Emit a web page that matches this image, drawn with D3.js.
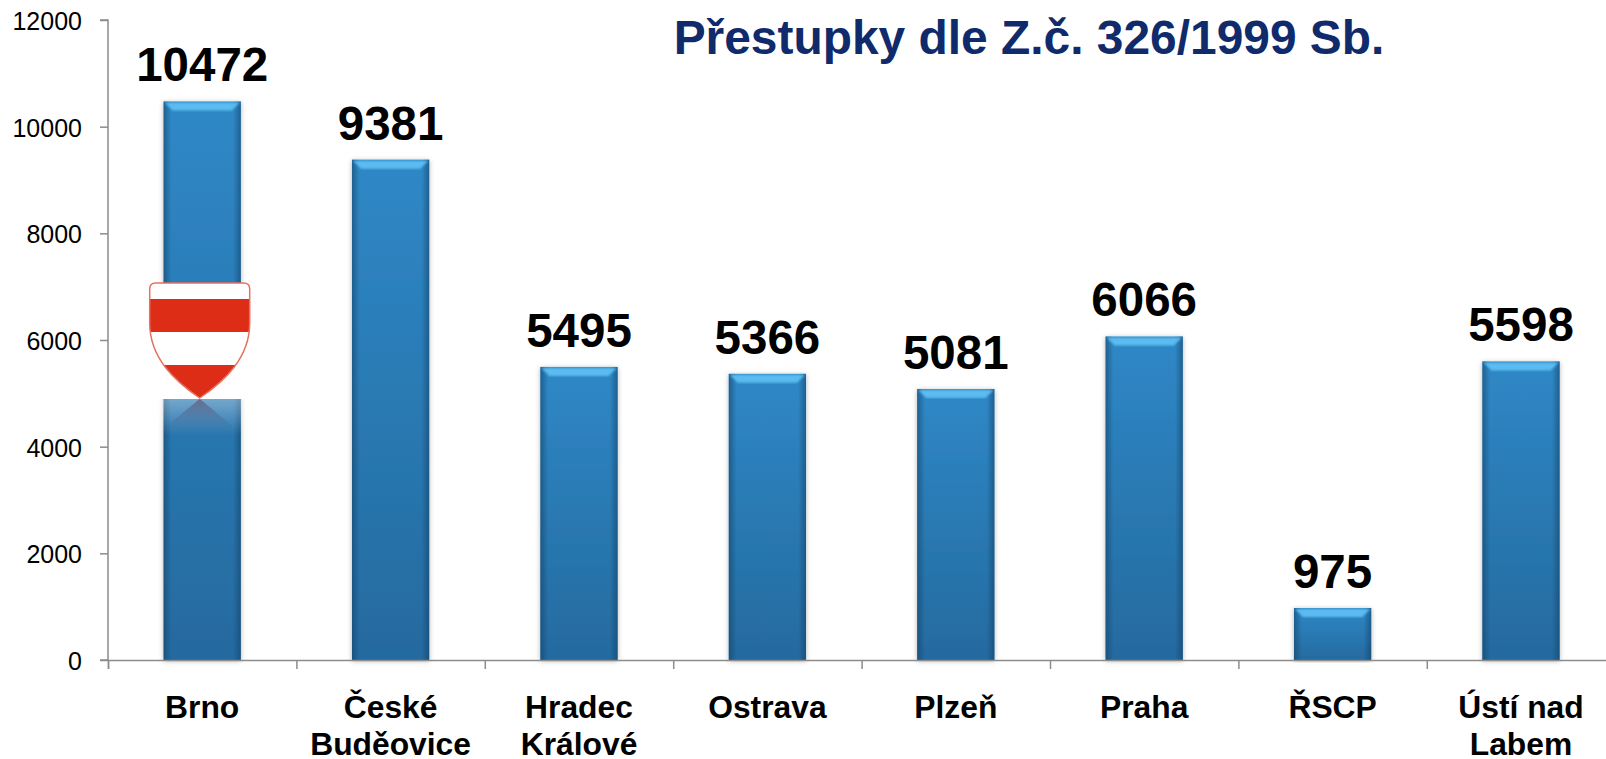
<!DOCTYPE html>
<html>
<head>
<meta charset="utf-8">
<script src="https://cdn.jsdelivr.net/npm/d3@7"></script>
<style>
  html, body { margin: 0; padding: 0; background: #fff; overflow: hidden; }
  svg { display: block; font-family: "Liberation Sans", Arial, sans-serif; }
</style>
</head>
<body>
<div id="plot-area"></div>
<script>
// Bar chart of offences per regional unit, law 326/1999

const categories = ["Brno", "České|Buděovice", "Hradec|Králové", "Ostrava", "Plzeň", "Praha", "ŘSCP", "Ústí nad|Labem"];
const values = [10472, 9381, 5495, 5366, 5081, 6066, 975, 5598];
const yTicks = [0, 2000, 4000, 6000, 8000, 10000, 12000];
const title = "Přestupky dle Z.č. 326/1999 Sb.";

const w = 1606, h = 759;
const svg = d3.select("#plot-area").append("svg").attr("width", w).attr("height", h);

// Plot area, the last slot runs a bit past the window edge like the source
const pL = 108, step = 188.4, yTop = 20, yBase = 660;

const xScale = d3.scaleBand().domain(categories).range([pL, pL + step * categories.length]).paddingInner(0.59).paddingOuter(0.295);
const xEdge = d3.scaleLinear().domain([0, categories.length]).range([pL, pL + step * categories.length]);
const yScale = d3.scaleLinear().domain([0, 12000]).range([yBase, yTop]);

// Gradients and shadow for the bevelled bars
const defs = svg.append("defs");

const bodyGrad = defs.append("linearGradient").attr("id", "bar-body").attr("x1", 0).attr("y1", 0).attr("x2", 0).attr("y2", 1);
bodyGrad.append("stop").attr("offset", "0%").attr("stop-color", "#2f88c6");
bodyGrad.append("stop").attr("offset", "100%").attr("stop-color", "#246a9f");

const sideGrad = defs.append("linearGradient").attr("id", "bar-side").attr("x1", 0).attr("y1", 0).attr("x2", 1).attr("y2", 0);
sideGrad.append("stop").attr("offset", "0%").attr("stop-color", "#123f63").attr("stop-opacity", 0.55);
sideGrad.append("stop").attr("offset", "10%").attr("stop-color", "#123f63").attr("stop-opacity", 0);
sideGrad.append("stop").attr("offset", "90%").attr("stop-color", "#123f63").attr("stop-opacity", 0);
sideGrad.append("stop").attr("offset", "100%").attr("stop-color", "#123f63").attr("stop-opacity", 0.55);

const shadow = defs.append("filter").attr("id", "bar-shadow").attr("x", "-15%").attr("y", "-5%").attr("width", "130%").attr("height", "110%");
shadow.append("feDropShadow").attr("dx", 0).attr("dy", 1).attr("stdDeviation", 2.5).attr("flood-color", "#000").attr("flood-opacity", 0.3);

defs.append("filter").attr("id", "soft").append("feGaussianBlur").attr("stdDeviation", 0.8);

const fadeGrad = defs.append("linearGradient").attr("id", "reflect-fade").attr("x1", 0).attr("y1", 0).attr("x2", 0).attr("y2", 1);
fadeGrad.append("stop").attr("offset", "0%").attr("stop-color", "#fff").attr("stop-opacity", 0.35);
fadeGrad.append("stop").attr("offset", "100%").attr("stop-color", "#fff").attr("stop-opacity", 0);

const tipGrad = defs.append("linearGradient").attr("id", "reflect-tip").attr("x1", 0).attr("y1", 0).attr("x2", 0).attr("y2", 1);
tipGrad.append("stop").attr("offset", "0%").attr("stop-color", "#6a5f80").attr("stop-opacity", 0.85);
tipGrad.append("stop").attr("offset", "100%").attr("stop-color", "#2a6f9f").attr("stop-opacity", 0);

// Bars
const bars = svg.selectAll(".bar").data(categories).enter().append("g").attr("class", "bar");
const bevel = 9;

bars.append("rect").
attr("x", d => xScale(d)).
attr("y", (d, i) => yScale(values[i])).
attr("width", xScale.bandwidth()).
attr("height", (d, i) => yBase - yScale(values[i])).
attr("fill", "url(#bar-body)").
attr("filter", "url(#bar-shadow)");

bars.append("rect").
attr("x", d => xScale(d)).
attr("y", (d, i) => yScale(values[i])).
attr("width", xScale.bandwidth()).
attr("height", (d, i) => yBase - yScale(values[i])).
attr("fill", "url(#bar-side)");

bars.append("polygon").
attr("points", (d, i) => {
  const x0 = xScale(d), x1 = x0 + xScale.bandwidth(), y0 = yScale(values[i]);
  return [[x0 + 1, y0 + 1], [x1 - 1, y0 + 1], [x1 - bevel, y0 + bevel], [x0 + bevel, y0 + bevel]].join(" ");
}).
attr("fill", "#5bbbf0").
attr("filter", "url(#soft)");

// Axes
const yAxis = d3.axisLeft(yScale).tickValues(yTicks).tickSize(8).tickFormat(d3.format("d"));
const xAxis = d3.axisBottom(xEdge).tickValues(d3.range(0, categories.length + 1)).tickSize(9).tickFormat("");

const gy = svg.append("g").attr("transform", `translate(${pL} 0)`).call(yAxis);
const gx = svg.append("g").attr("transform", `translate(0 ${yBase})`).call(xAxis);

svg.selectAll(".domain, .tick line").attr("stroke", "#8c8c8c").attr("stroke-width", 1.5);
gy.select(".domain").attr("d", `M-8,${yTop}H0V${yBase}H-8`);
gy.selectAll("text").attr("x", -26).attr("y", 1.5).attr("font-size", 25).attr("font-family", "Liberation Sans").attr("fill", "#000");

// Value labels
svg.selectAll(".value").data(values).enter().append("text").
attr("class", "value").
attr("x", (d, i) => xScale(categories[i]) + xScale.bandwidth() / 2).
attr("y", d => yScale(d) - 20).
attr("text-anchor", "middle").
attr("font-size", 47.5).
attr("font-weight", "bold").
attr("fill", "#000").
text(d => d);

// Category labels, "|" marks the line break
const catLabels = svg.selectAll(".cat").data(categories).enter().append("text").
attr("class", "cat").
attr("text-anchor", "middle").
attr("font-size", 31.8).
attr("font-weight", "bold").
attr("fill", "#000");

catLabels.selectAll("tspan").data(d => d.split("|").map(t => ({ t, c: d }))).enter().append("tspan").
attr("x", d => xScale(d.c) + xScale.bandwidth() / 2).
attr("y", (d, i) => 718 + i * 37).
text(d => d.t);

// Title
svg.append("text").
attr("x", 1029).
attr("y", 54).
attr("text-anchor", "middle").
attr("font-size", 47.9).
attr("font-weight", "bold").
attr("fill", "#0f2b6c").
text(title);

// Brno coat of arms sitting on the first bar, with its faded reflection
const cx = xScale("Brno") + xScale.bandwidth() / 2 - 2.5;
const arms = svg.append("g").attr("transform", `translate(${cx} 283)`);
const shieldPath = "M-50,6Q-50,0 -44,0H44Q50,0 50,6V40C50,75 25,98 0,115C-25,98 -50,75 -50,40Z";

defs.append("clipPath").attr("id", "shield-clip").append("path").attr("d", shieldPath);

arms.append("rect").attr("x", -50).attr("y", 0).attr("width", 100).attr("height", 116).attr("rx", 7).attr("fill", "#fff");
arms.append("rect").attr("x", -47).attr("y", 116).attr("width", 100).attr("height", 36).attr("fill", "url(#reflect-fade)");

// reflected tip of the shield
arms.append("path").attr("d", "M-40,150C-22,134 -10,124 0,116C10,124 22,134 40,150Z").attr("fill", "url(#reflect-tip)");

const shield = arms.append("g").attr("clip-path", "url(#shield-clip)");
shield.append("rect").attr("x", -50).attr("y", 16).attr("width", 100).attr("height", 33).attr("fill", "#de2d17");
shield.append("rect").attr("x", -50).attr("y", 82).attr("width", 100).attr("height", 34).attr("fill", "#de2d17");
arms.append("path").attr("d", shieldPath).attr("fill", "none").attr("stroke", "#e8705f").attr("stroke-width", 1.5);
</script>
</body>
</html>
